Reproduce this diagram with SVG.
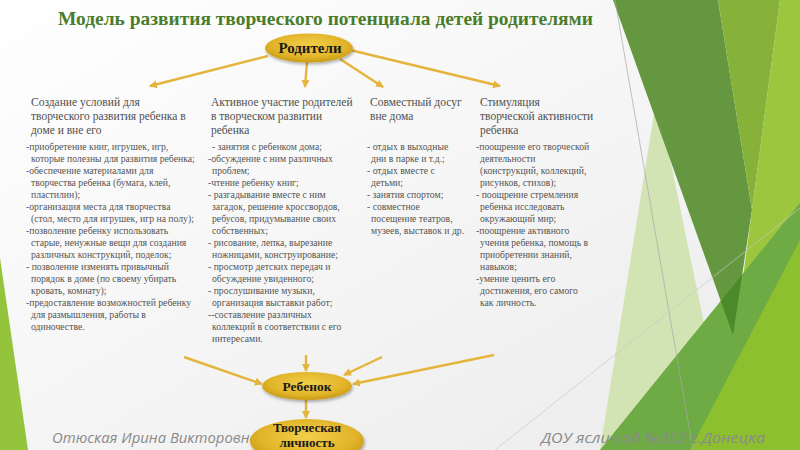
<svg xmlns="http://www.w3.org/2000/svg" width="800" height="450" viewBox="0 0 800 450">
<defs>
<linearGradient id="bg" x1="0" y1="0" x2="1" y2="1">
<stop offset="0" stop-color="#ffffff"/>
<stop offset="1" stop-color="#ebebeb"/>
</linearGradient>
<radialGradient id="gold" cx="0.5" cy="0.4" r="0.6">
<stop offset="0" stop-color="#f2cf48"/>
<stop offset="0.7" stop-color="#e2b42a"/>
<stop offset="1" stop-color="#c99a14"/>
</radialGradient>
<filter id="sh" x="-30%" y="-40%" width="160%" height="190%">
<feDropShadow dx="1" dy="2" stdDeviation="1.5" flood-color="#000" flood-opacity="0.3"/>
</filter>
<marker id="ah" markerWidth="9" markerHeight="9" refX="7" refY="4.5" orient="auto" markerUnits="userSpaceOnUse">
<path d="M0,0.5 L8,4.5 L0,8.5 Z" fill="#e4b43c"/>
</marker>
<style>
.hd{font-family:"Liberation Serif","Times New Roman",serif;font-size:11.5px;fill:#505050}
.ls{font-family:"Liberation Serif","Times New Roman",serif;font-size:9.7px;fill:#555555}
.nd{font-family:"Liberation Serif","Times New Roman",serif;font-weight:bold;fill:#1a1a1a;text-anchor:middle}
.ft{font-family:"Open Sans","DejaVu Sans",sans-serif;font-style:italic;font-size:15px;fill:#8a8a8a}
.cn{stroke:#e4b43c;stroke-width:2.4;fill:none;marker-end:url(#ah)}
</style>
</defs>

<rect width="800" height="450" fill="url(#bg)"/>

<!-- decorations -->
<polygon points="0,258 28,450 0,450" fill="#93c43c"/>
<polygon points="657,95 600,450 730,450" fill="#d2e4b3"/>
<polygon points="613,0 718,0 752,210 733,335" fill="#64973f"/>
<polygon points="718,0 780,0 752,210" fill="#86b23a"/>
<polygon points="780,0 800,0 800,450 720,450 752,210" fill="#9bc63d"/>
<polygon points="600,450 800,203 800,450" fill="#6fab44"/>
<polygon points="720.8,301 742.2,274.4 733,335" fill="#4b8a2a"/>
<polygon points="690,450 800,240 800,450" fill="#8dc02f"/>
<line x1="615" y1="0" x2="693" y2="450" stroke="#a8a8a8" stroke-width="0.7"/>
<line x1="495" y1="450" x2="800" y2="208" stroke="#c8c8c8" stroke-width="0.7"/>

<text x="58" y="25" font-family="'Liberation Serif','Times New Roman',serif" font-weight="bold" font-size="19.5" fill="#4a7d2b" textLength="535" lengthAdjust="spacingAndGlyphs">Модель развития творческого потенциала детей родителями</text>

<g id="connectors">
<line class="cn" x1="268" y1="56" x2="150" y2="86"/>
<line class="cn" x1="307" y1="62" x2="305" y2="87"/>
<line class="cn" x1="340" y1="59" x2="383" y2="87"/>
<line class="cn" x1="350" y1="50" x2="500" y2="86"/>
<line class="cn" x1="184" y1="357" x2="262" y2="384"/>
<line class="cn" x1="306" y1="355" x2="306" y2="371"/>
<line class="cn" x1="382" y1="357" x2="344" y2="375"/>
<line class="cn" x1="494" y1="355" x2="353" y2="384"/>
<line class="cn" x1="306" y1="400" x2="306" y2="418"/>
</g>

<g id="node-parents">
<ellipse cx="309" cy="48" rx="44" ry="14.5" fill="url(#gold)" filter="url(#sh)"/>
<text class="nd" x="310" y="53" font-size="15">Родители</text>
</g>

<g id="node-col1">
<text class="hd"><tspan x="31" y="106">Создание условий  для</tspan><tspan x="31" y="120">творческого развития ребенка в</tspan><tspan x="31" y="134">доме и вне его</tspan></text>
<text class="ls">
<tspan x="26" y="150">-приобретение книг, игрушек, игр,</tspan>
<tspan x="31" y="162">которые полезны для развития ребенка;</tspan>
<tspan x="26" y="174">-обеспечение материалами для</tspan>
<tspan x="31" y="186">творчества ребенка (бумага, клей,</tspan>
<tspan x="31" y="198">пластилин);</tspan>
<tspan x="26" y="210">-организация места для творчества</tspan>
<tspan x="31" y="222">(стол, место для игрушек, игр на полу);</tspan>
<tspan x="26" y="234">-позволение ребенку использовать</tspan>
<tspan x="31" y="246">старые, ненужные вещи для создания</tspan>
<tspan x="31" y="258">различных конструкций, поделок;</tspan>
<tspan x="26" y="270">- позволение изменять привычный</tspan>
<tspan x="31" y="282">порядок в доме (по своему убирать</tspan>
<tspan x="31" y="294">кровать, комнату);</tspan>
<tspan x="26" y="306">-предоставление возможностей ребенку</tspan>
<tspan x="31" y="318">для размышления, работы в</tspan>
<tspan x="31" y="330">одиночестве.</tspan>
</text>
</g>

<g id="node-col2">
<text class="hd"><tspan x="211" y="106">Активное участие родителей</tspan><tspan x="211" y="120">в творческом развитии</tspan><tspan x="211" y="134">ребенка</tspan></text>
<text class="ls">
<tspan x="212" y="150">- занятия с ребенком дома;</tspan>
<tspan x="208" y="162">-обсуждение с ним различных</tspan>
<tspan x="212" y="174">проблем;</tspan>
<tspan x="208" y="186">-чтение ребенку книг;</tspan>
<tspan x="208" y="198">- разгадывание вместе с ним</tspan>
<tspan x="212" y="210">загадок, решение кроссвордов,</tspan>
<tspan x="212" y="222">ребусов, придумывание своих</tspan>
<tspan x="212" y="234">собственных;</tspan>
<tspan x="208" y="246">- рисование, лепка, вырезание</tspan>
<tspan x="212" y="258">ножницами, конструирование;</tspan>
<tspan x="208" y="270">- просмотр детских передач и</tspan>
<tspan x="212" y="282">обсуждение увиденного;</tspan>
<tspan x="208" y="294">- прослушивание музыки,</tspan>
<tspan x="212" y="306">организация выставки работ;</tspan>
<tspan x="208" y="318">--составление различных</tspan>
<tspan x="212" y="330">коллекций в соответствии с его</tspan>
<tspan x="212" y="342">интересами.</tspan>
</text>
</g>

<g id="node-col3">
<text class="hd"><tspan x="370" y="106">Совместный досуг</tspan><tspan x="370" y="120">вне дома</tspan></text>
<text class="ls">
<tspan x="367" y="150">- отдых в выходные</tspan>
<tspan x="371" y="162">дни в парке и т.д.;</tspan>
<tspan x="367" y="174">- отдых вместе с</tspan>
<tspan x="371" y="186">детьми;</tspan>
<tspan x="367" y="198">- занятия спортом;</tspan>
<tspan x="367" y="210">- совместное</tspan>
<tspan x="371" y="222">посещение театров,</tspan>
<tspan x="371" y="234">музеев, выставок и др.</tspan>
</text>
</g>

<g id="node-col4">
<text class="hd"><tspan x="480" y="106">Стимуляция</tspan><tspan x="480" y="120">творческой активности</tspan><tspan x="480" y="134">ребенка</tspan></text>
<text class="ls">
<tspan x="476" y="150">-поощрение его творческой</tspan>
<tspan x="480" y="162">деятельности</tspan>
<tspan x="480" y="174">(конструкций, коллекций,</tspan>
<tspan x="480" y="186">рисунков, стихов);</tspan>
<tspan x="476" y="198">- поощрение стремления</tspan>
<tspan x="480" y="210">ребенка исследовать</tspan>
<tspan x="480" y="222">окружающий мир;</tspan>
<tspan x="476" y="234">-поощрение активного</tspan>
<tspan x="480" y="246">учения ребенка, помощь в</tspan>
<tspan x="480" y="258">приобретении знаний,</tspan>
<tspan x="480" y="270">навыков;</tspan>
<tspan x="476" y="282">-умение ценить его</tspan>
<tspan x="480" y="294">достижения, его самого</tspan>
<tspan x="480" y="306">как личность.</tspan>
</text>
</g>

<text class="ft" x="52" y="443" textLength="206" lengthAdjust="spacingAndGlyphs">Отюская Ирина Викторовна</text>
<text class="ft" x="541" y="443" textLength="224" lengthAdjust="spacingAndGlyphs">ДОУ ясли-сад №352 г.Донецка</text>

<g id="node-child">
<ellipse cx="307" cy="386" rx="45" ry="14" fill="url(#gold)" filter="url(#sh)"/>
<text class="nd" x="307" y="391" font-size="13.5">Ребенок</text>
</g>

<g id="node-personality">
<ellipse cx="307" cy="441" rx="57" ry="22" fill="url(#gold)" filter="url(#sh)"/>
<text class="nd" x="307" y="432" font-size="13">Творческая</text>
<text class="nd" x="307" y="447" font-size="13">личность</text>
</g>
</svg>
